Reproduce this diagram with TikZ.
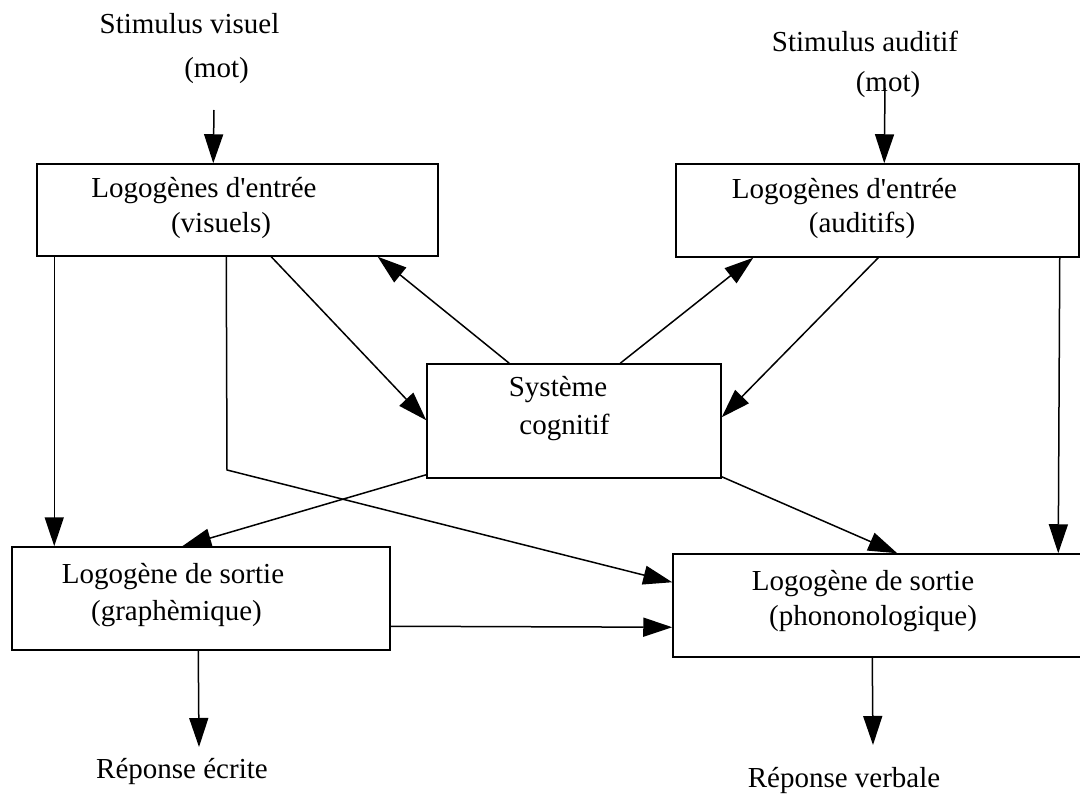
\documentclass[tikz,border=0pt]{standalone}
\usepackage{fontspec}
\setmainfont{Liberation Serif}
\usetikzlibrary{arrows.meta}
\begin{document}
\begin{tikzpicture}[x=1pt,y=-1pt,
  box/.style={draw, line width=1.5pt, rectangle, inner sep=0pt},
  lbl/.style={anchor=base, inner sep=0pt, font=\fontsize{29}{35}\selectfont},
  conn/.style={line width=1.5pt, -{Triangle[length=29pt,width=19pt]}},
  link/.style={line width=1.5pt}]
\useasboundingbox (0,0) rectangle (1080,794);
\clip (0,0) rectangle (1080,794);

% boxes
\node[box, minimum width=401pt, minimum height=92pt] (vin) at (237.5,210) {};
\node[box, minimum width=403pt, minimum height=93pt] (ain) at (877.5,210.5) {};
\node[box, minimum width=294pt, minimum height=114pt] (cog) at (574,421) {};
\node[box, minimum width=378pt, minimum height=103pt] (gout) at (201,598.5) {};
\node[box, minimum width=417pt, minimum height=103pt] (pout) at (881.5,605.5) {};

% texts
\node[lbl] (stv) at (189.5,34) {Stimulus visuel};
\node[lbl] (motv) at (216.5,78) {(mot)};
\node[lbl] (sta) at (865,52) {Stimulus auditif};
\node[lbl] (mota) at (888,92) {(mot)};
\node[lbl] (vin1) at (204,198) {Logogènes d\textquotesingle entrée};
\node[lbl] (vin2) at (221,233) {(visuels)};
\node[lbl] (ain1) at (844.5,199) {Logogènes d\textquotesingle entrée};
\node[lbl] (ain2) at (862,233) {(auditifs)};
\node[lbl] (cog1) at (558,397) {Système};
\node[lbl] (cog2) at (564.5,435) {cognitif};
\node[lbl] (gout1) at (173,583) {Logogène de sortie};
\node[lbl] (gout2) at (176.5,620) {(graphèmique)};
\node[lbl] (pout1) at (863,590) {Logogène de sortie};
\node[lbl] (pout2) at (873,625) {(phononologique)};
\node[lbl] (recrite) at (182,778) {Réponse écrite};
\node[lbl] (rverbale) at (844,787) {Réponse verbale};

% free ends
\coordinate (sv) at (214,110);
\coordinate (sa) at (885,88);
\coordinate (bend) at (227,470);
\coordinate (e13) at (199,747);
\coordinate (e14) at (873,745);

% connectors
\draw[conn] (sv) -- ([xshift=177pt]vin.north west);
\draw[conn] (sa) -- ([xshift=209pt]ain.north west);
\draw[conn] ([xshift=18pt]vin.south west) -- ([xshift=43pt]gout.north west);
\draw[conn] ([xshift=190pt]vin.south west) -- (bend) -- ([yshift=-29pt]pout.north west);
\draw[conn] ([xshift=235pt]vin.south west) -- ([yshift=-57pt]cog.north west);
\draw[conn] ([xshift=83pt]cog.north west) -- ([xshift=-61pt]vin.south east);
\draw[conn] ([xshift=194pt]cog.north west) -- ([xshift=78pt]ain.south west);
\draw[conn] ([xshift=203pt]ain.south west) -- ([yshift=-54pt]cog.north east);
\draw[conn] ([xshift=-20pt]ain.south east) -- ([xshift=386pt]pout.north west);
\draw[conn] ([yshift=4pt]cog.south west) -- ([xshift=171pt]gout.north west);
\draw[conn] ([yshift=2pt]cog.south east) -- ([xshift=225pt]pout.north west);
\draw[conn] ([yshift=-80pt]gout.north east) -- ([yshift=-74pt]pout.north west);
\draw[conn] ([xshift=187pt]gout.south west) -- (e13);
\draw[conn] ([xshift=200pt]pout.south west) -- (e14);
\end{tikzpicture}
\end{document}
